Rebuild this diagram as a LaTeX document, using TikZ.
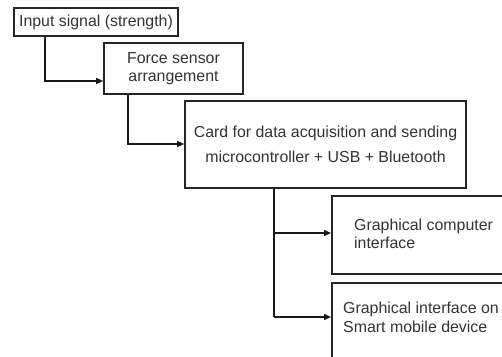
\documentclass[tikz,border=0pt]{standalone}
\usepackage{fontspec}
\setmainfont{Liberation Sans}
\usetikzlibrary{arrows.meta}
\begin{document}
\begin{tikzpicture}[x=1pt,y=-1pt,
  box/.style={draw=black!85, line width=1.6pt, rectangle, inner sep=0pt, text=black!80},
  txt/.style={text=black!80, inner sep=0pt},
  arr/.style={line width=1.4pt, draw=black!90, -{Triangle[length=7pt,width=6pt]}},
  ln/.style={line width=1.4pt, draw=black!90},
  every node/.style={font=\fontsize{15.9}{18.5}\selectfont}
]
\useasboundingbox (0,0) rectangle (502,356);
\clip (0,0) rectangle (502,356);
% boxes
\node[box, minimum width=164pt, minimum height=28pt] (b1) at (96,22) {Input signal (strength)};
\node[box, minimum width=139pt, minimum height=51pt, align=center] (b2) at (173.5,68.5) {Force sensor\\arrangement};
\node[box, minimum width=281pt, minimum height=87pt, align=center,
      font=\fontsize{15.9}{25}\selectfont] (b3) at (325.5,144.5)
      {Card for data acquisition and sending\\microcontroller + USB + Bluetooth};
\node[box, anchor=north west, minimum width=269pt, minimum height=78pt] (b4) at (331,195) {};
\node[txt, anchor=west, align=left] (t4) at (354,234) {Graphical computer\\interface};
\node[box, anchor=north west, minimum width=269pt, minimum height=120pt] (b5) at (331,282) {};
\node[txt, anchor=west, align=left] (t5) at (343,317.5) {Graphical interface on\\Smart mobile device};
% connectors
\coordinate (k1) at (45,81);
\coordinate (k2) at (128,144);
\coordinate (k3) at (274,233);
\coordinate (k4) at (274,317);
\draw[arr] (b1.south -| k1) -- (k1) -- (k1 -| b2.west);
\draw[arr] (b2.south -| k2) -- (k2) -- (k2 -| b3.west);
\draw[ln] (b3.south -| k3) -- (k4);
\draw[arr] (k3) -- (k3 -| b4.west);
\draw[arr] (k4) -- (k4 -| b5.west);
\end{tikzpicture}
\end{document}
